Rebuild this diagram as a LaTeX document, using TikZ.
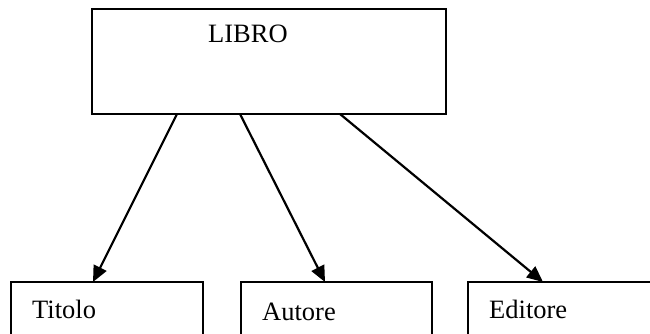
\documentclass[tikz,border=0pt]{standalone}
\usepackage{fontspec}
\setmainfont{Liberation Serif}
\usetikzlibrary{positioning, arrows.meta}

\begin{document}
\begin{tikzpicture}
    [
        x=1pt, y=-1pt,
        box_node/.style={rectangle, draw=black, line width=1.5pt, inner sep=0pt, outer sep=0pt},
        box_text/.style={anchor=base west, inner sep=0pt, font=\fontsize{26.5}{31}\selectfont},
        link/.style={-{Triangle[length=16pt, width=14pt]}, line width=2.2pt},
    ]
        \clip (0,0) rectangle (650,334) ;
        \node[box_node, minimum width=354pt, minimum height=105pt] (libro) at (269,61.5) {} ;
        \node[box_text] (libro_text) at (208,43) {LIBRO} ;
        \node[box_node, minimum width=192pt, minimum height=78pt] (titolo) at (107,321) {} ;
        \node[box_node, minimum width=191pt, minimum height=78pt] (autore) at (336.5,321) {} ;
        \node[box_node, minimum width=212pt, minimum height=78pt] (editore) at (574,321) {} ;
        \node[box_text] (titolo_text) at (32,318) {Titolo} ;
        \node[box_text] (autore_text) at (262,320) {Autore} ;
        \node[box_text] (editore_text) at (489,318) {Editore} ;
        \draw[link] ([xshift=85pt]libro.south west) -- ([xshift=-14pt]titolo.north) ;
        \draw[link] ([xshift=148pt]libro.south west) -- ([xshift=-11.5pt]autore.north) ;
        \draw[link] ([xshift=248pt]libro.south west) -- ([xshift=-31pt]editore.north) ;
    \end{tikzpicture}
\end{document}
